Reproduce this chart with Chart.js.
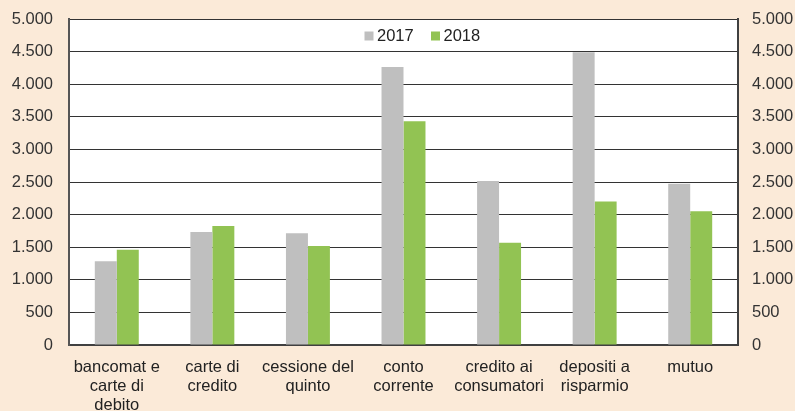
<!DOCTYPE html>
<html>
<head>
<meta charset="utf-8">
<script src="https://cdn.jsdelivr.net/npm/chart.js@4"></script>
<style>
  html, body { margin: 0; padding: 0; background: #fbead8; }
  #wrap { width: 795px; height: 411px; }
</style>
</head>
<body>
<div id="wrap"><canvas id="barChart"></canvas></div>
<script>
const categorie = [
    ['bancomat e', 'carte di', 'debito'],
    ['carte di', 'credito'],
    ['cessione del', 'quinto'],
    ['conto', 'corrente'],
    ['credito ai', 'consumatori'],
    ['depositi a', 'risparmio'],
    ['mutuo'],
];

const valori2017 = [1285, 1735, 1715, 4265, 2515, 4490, 2475];
const valori2018 = [1460, 1825, 1520, 3430, 1570, 2200, 2050];

const fmt = v => v.toLocaleString('it-IT');

// sfondo bianco dell'area del grafico
const plotBg = {
  id: 'plotBg',
  beforeDraw(chart) {
    const a = chart.chartArea;
    const c = chart.ctx;
    c.save();
    c.fillStyle = '#ffffff';
    c.fillRect(a.left, a.top, a.right - a.left, a.bottom - a.top);
    c.restore();
  }
};

// legenda dentro l'area del grafico, in alto al centro
const legendaInterna = {
  id: 'legendaInterna',
  afterDraw(chart) {
    const a = chart.chartArea;
    const c = chart.ctx;
    const sets = chart.data.datasets;
    c.save();
    c.font = '16.5px "Liberation Sans", Arial, sans-serif';
    c.textBaseline = 'middle';
    let x = a.left + (a.right - a.left) / 2 - 39;
    const y = a.top + 17;
    sets.forEach(ds => {
      c.fillStyle = ds.backgroundColor;
      c.fillRect(x, y - 4.5, 9, 9);
      c.fillStyle = '#222222';
      c.fillText(ds.label, x + 12.5, y);
      x += 66.5;
    });
    c.restore();
  }
};

Chart.defaults.font.family = '"Liberation Sans", Arial, sans-serif';
Chart.defaults.font.size = 16.5;
Chart.defaults.color = '#333333';

var ctx = document.getElementById('barChart');

var barChart = new Chart(ctx, {
  type: 'bar',
  data: {
    labels: categorie,
    datasets: [
      {
        label: '2017',
        data: valori2017,
        backgroundColor: '#bfbfbf',
      },
      {
        label: '2018',
        data: valori2018,
        backgroundColor: '#92c353',
      },
    ],
  },
  options: {
    responsive: true,
    maintainAspectRatio: false,
    animation: false,
    categoryPercentage: 0.46,
    barPercentage: 1,
    layout: { padding: { top: 0, left: 0, right: 0, bottom: 0 } },
    plugins: {
      legend: { display: false },
      tooltip: { enabled: false },
    },
    scales: {
      x: {
        grid: { display: false, drawTicks: false },
        border: { color: '#404040', width: 2 },
        ticks: { padding: 13, color: '#222222', maxRotation: 0, autoSkip: false,
                 font: { lineHeight: 1.15 } },
        afterFit: s => { s.height = 66; },
      },
      y: {
        position: 'left',
        min: 0,
        max: 5000,
        grid: { color: '#333333', drawTicks: false },
        border: { color: '#555555', width: 2 },
        ticks: { stepSize: 500, padding: 16, callback: fmt },
        afterFit: s => { s.width = 69; s.paddingTop = 19; s.paddingBottom = 0; },
      },
      y2: {
        position: 'right',
        min: 0,
        max: 5000,
        grid: { display: false, drawTicks: false },
        border: { color: '#404040', width: 2 },
        ticks: { stepSize: 500, padding: 14, callback: fmt },
        afterFit: s => { s.width = 57; s.paddingTop = 19; s.paddingBottom = 0; },
      },
    },
  },
  plugins: [plotBg, legendaInterna],
});
</script>
</body>
</html>
